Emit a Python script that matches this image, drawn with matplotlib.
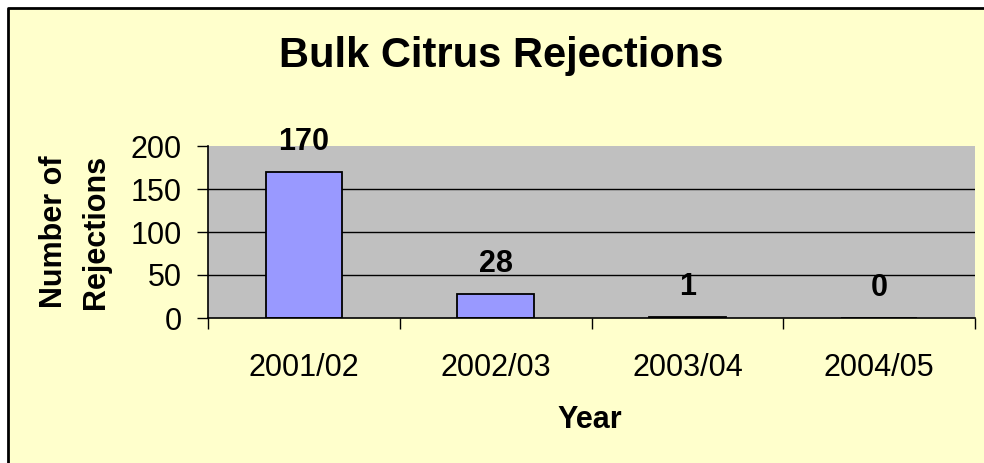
import matplotlib.pyplot as plt
from matplotlib.patches import Rectangle
from matplotlib.lines import Line2D

years = ['2001/02', '2002/03', '2003/04', '2004/05']
rejections = [170, 28, 1, 0]
y_ticks = [0, 50, 100, 150, 200]

plt.rcParams['font.family'] = ['Liberation Sans', 'DejaVu Sans']

W, H = 984, 463
fig = plt.figure(figsize=(W / 100, H / 100), dpi=100)
fig.patch.set_facecolor('white')

# chart area: yellow box, border only shows on the left and top
left, top = 8 / W, 1 - 8 / H
fig.patches.append(Rectangle((left, 0), 1 - left, top,
                             transform=fig.transFigure, facecolor='#FFFFCC',
                             edgecolor='none', zorder=-2))
fig.lines.append(Line2D([left, left, 1], [0, top, top],
                        transform=fig.transFigure, color='black',
                        linewidth=2, zorder=-1))

ax = fig.add_axes([208 / W, 1 - 318 / H, (975 - 208) / W, (318 - 146) / H])
ax.set_zorder(1)
ax.set_facecolor('#C0C0C0')

x = list(range(len(years)))
ax.bar(x, rejections, width=0.4, color='#9999FF', edgecolor='black',
       linewidth=1.3, zorder=3)

for xi, v in zip(x, rejections):
    ax.annotate(str(v), (xi, v), xytext=(0, 16), textcoords='offset points',
                ha='center', va='baseline', fontsize=22, fontweight='bold',
                zorder=4, annotation_clip=False)

ax.set_xlim(-0.5, len(years) - 0.5)
ax.set_ylim(0, 200)
ax.set_yticks(y_ticks)
for yv in y_ticks[1:-1]:
    ax.axhline(yv, color='black', linewidth=1.0, zorder=1)

ax.set_xticks(x)
ax.set_xticklabels(years)
ax.set_xticks([i - 0.5 for i in range(len(years) + 1)], minor=True)
ax.tick_params(axis='x', which='major', length=0, pad=25, labelsize=22)
ax.tick_params(axis='x', which='minor', length=8, width=1.0, direction='out')
ax.tick_params(axis='y', length=8, width=1.0, direction='out', pad=11,
               labelsize=22)

for s in ['top', 'right']:
    ax.spines[s].set_visible(False)
for s in ['left', 'bottom']:
    ax.spines[s].set_linewidth(1.2)
    ax.spines[s].set_zorder(5)

fig.text(501 / W, 1 - 67 / H, 'Bulk Citrus Rejections', ha='center',
         va='baseline', fontsize=30, fontweight='bold')
fig.text(590 / W, 1 - 428 / H, 'Year', ha='center', va='baseline',
         fontsize=22, fontweight='bold')
fig.text(75 / W, 1 - 232 / H, 'Number of\nRejections', ha='center',
         va='center', rotation=90, multialignment='center', fontsize=22,
         fontweight='bold', linespacing=1.5)

fig.savefig('out.png', dpi=100)
